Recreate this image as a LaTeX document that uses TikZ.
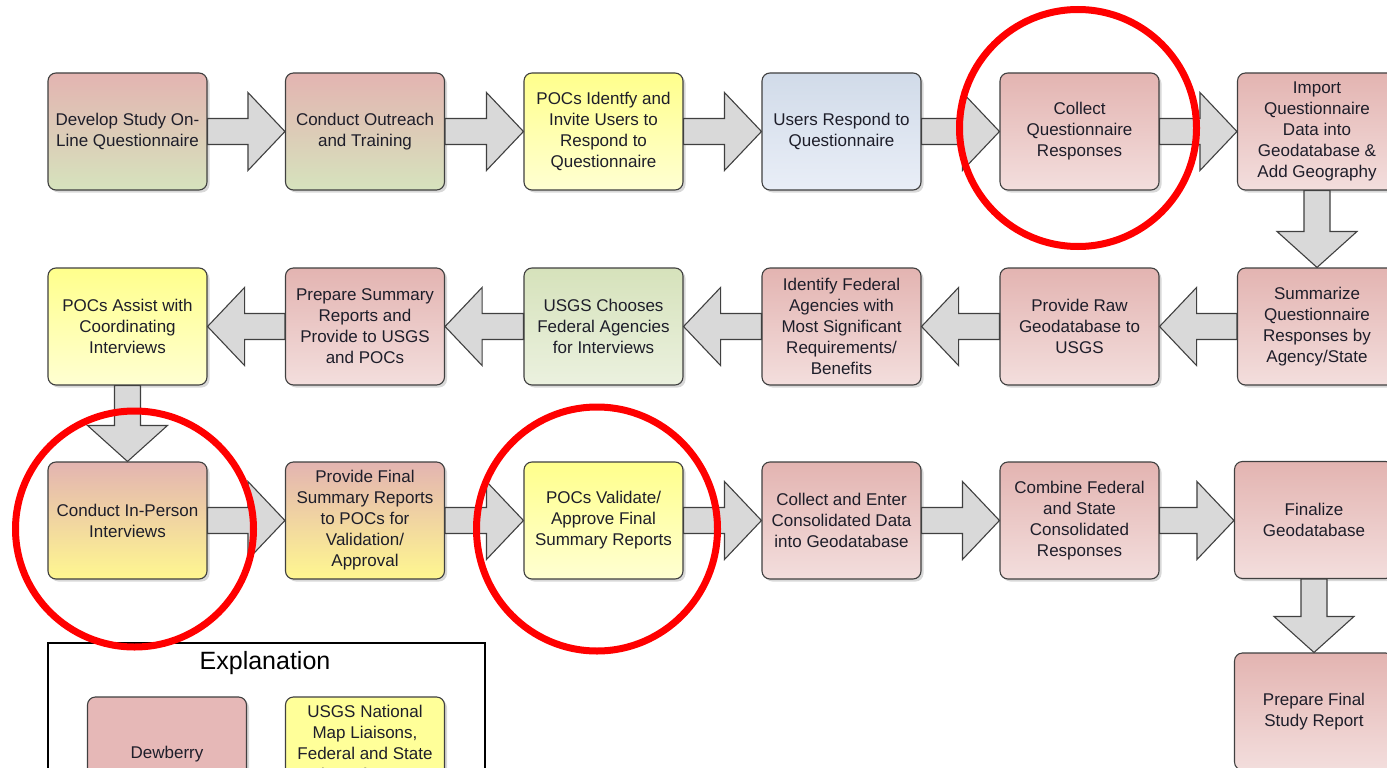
\documentclass[tikz,border=0pt]{standalone}
\usepackage{fontspec}
\setmainfont{Liberation Sans}
\usetikzlibrary{shadows,calc}

\definecolor{pinkT}{HTML}{E3B4B1}
\definecolor{pinkB}{HTML}{F3DEDD}
\definecolor{greenT}{HTML}{D6E2BB}
\definecolor{greenB}{HTML}{EBF1DF}
\definecolor{yelT}{HTML}{FFFF8C}
\definecolor{yelB}{HTML}{FFFFD2}
\definecolor{blueT}{HTML}{D1DBE9}
\definecolor{blueB}{HTML}{E9EEF7}
\definecolor{mixG}{HTML}{D6E3BD}
\definecolor{mixY}{HTML}{FFF790}
\definecolor{legPink}{HTML}{E6B8B7}
\definecolor{legYel}{HTML}{FFFF99}
\definecolor{boxline}{HTML}{404040}
\definecolor{arrowfill}{HTML}{D9D9D9}
\definecolor{txt}{HTML}{1E1E2A}
\definecolor{ringred}{HTML}{FF0000}

\tikzset{
  stepbox/.style={draw=boxline, line width=1.1pt, rounded corners=8pt,
    minimum width=159pt, minimum height=117pt, align=center, inner sep=0pt,
    font=\fontsize{17}{21}\selectfont, text=txt,
    drop shadow={opacity=0.3, shadow xshift=2.5pt, shadow yshift=-2.5pt}},
  dewbox/.style={stepbox, top color=pinkT, bottom color=pinkB},
  pgbox/.style={stepbox, top color=pinkT, bottom color=mixG},
  pybox/.style={stepbox, top color=pinkT, bottom color=mixY},
  yelbox/.style={stepbox, top color=yelT, bottom color=yelB},
  bluebox/.style={stepbox, top color=blueT, bottom color=blueB},
  grnbox/.style={stepbox, top color=greenT, bottom color=greenB},
  barrow/.style={draw=boxline, fill=arrowfill, line width=1.1pt, line join=miter},
  ringline/.style={draw=ringred, line width=7pt},
}

\newcommand{\arrR}[2]{\draw[barrow] let \p1=(#1.east), \p2=(#2.west) in
  (\x1,\y1+13pt) -- (\x2-37pt,\y1+13pt) -- (\x2-37pt,\y1+39pt) -- (\x2,\y1)
  -- (\x2-37pt,\y1-39pt) -- (\x2-37pt,\y1-13pt) -- (\x1,\y1-13pt) -- cycle;}
\newcommand{\arrL}[2]{\draw[barrow] let \p1=(#1.west), \p2=(#2.east) in
  (\x1,\y1+13pt) -- (\x2+37pt,\y1+13pt) -- (\x2+37pt,\y1+39pt) -- (\x2,\y1)
  -- (\x2+37pt,\y1-39pt) -- (\x2+37pt,\y1-13pt) -- (\x1,\y1-13pt) -- cycle;}
\newcommand{\arrD}[2]{\draw[barrow] let \p1=(#1.south), \p2=(#2.north) in
  (\x1-13pt,\y1) -- (\x1-13pt,\y2+36pt) -- (\x1-40pt,\y2+36pt) -- (\x1,\y2)
  -- (\x1+40pt,\y2+36pt) -- (\x1+13pt,\y2+36pt) -- (\x1+13pt,\y1) -- cycle;}

\begin{document}
\begin{tikzpicture}[x=1pt,y=-1pt]
\useasboundingbox (0,0) rectangle (1387,768);
\clip (0,0) rectangle (1387,768);
\fill[white] (0,0) rectangle (1387,768);

% row 1
\node[pgbox]   (b1) at (127.5,131.5) {Develop Study On-\\Line Questionnaire};
\node[pgbox]   (b2) at (365,131.5) {Conduct Outreach\\and Training};
\node[yelbox]  (b3) at (603.5,131.5) {POCs Identfy and\\Invite Users to\\Respond to\\Questionnaire};
\node[bluebox] (b4) at (841.5,131.5) {Users Respond to\\Questionnaire};
\node[dewbox]  (b5) at (1079.5,131.5) {Collect\\Questionnaire\\Responses};
\node[dewbox]  (b6) at (1317,131.5) {Import\\Questionnaire\\Data into\\Geodatabase \&\\Add Geography};

% row 2
\node[yelbox]  (c1) at (127.5,326.5) {POCs Assist with\\Coordinating\\Interviews};
\node[dewbox]  (c2) at (365,326.5) {Prepare Summary\\Reports and\\Provide to USGS\\and POCs};
\node[grnbox]  (c3) at (603.5,326.5) {USGS Chooses\\Federal Agencies\\for Interviews};
\node[dewbox]  (c4) at (841.5,326.5) {Identify Federal\\Agencies with\\Most Significant\\Requirements/\\Benefits};
\node[dewbox]  (c5) at (1079.5,326.5) {Provide Raw\\Geodatabase to\\USGS};
\node[dewbox]  (c6) at (1317,326.5) {Summarize\\Questionnaire\\Responses by\\Agency/State};

% row 3
\node[pybox]   (d1) at (127.5,520.5) {Conduct In-Person\\Interviews};
\node[pybox]   (d2) at (365,520.5) {Provide Final\\Summary Reports\\to POCs for\\Validation/\\Approval};
\node[yelbox]  (d3) at (603.5,520.5) {POCs Validate/\\Approve Final\\Summary Reports};
\node[dewbox]  (d4) at (841.5,520.5) {Collect and Enter\\Consolidated Data\\into Geodatabase};
\node[dewbox]  (d5) at (1079.5,520.5) {Combine Federal\\and State\\Consolidated\\Responses};
\node[dewbox]  (d6) at (1314,520) {Finalize\\Geodatabase};
\node[dewbox]  (e6) at (1314,711.5) {Prepare Final\\Study Report};

% arrows
\arrR{b1}{b2} \arrR{b2}{b3} \arrR{b3}{b4} \arrR{b4}{b5} \arrR{b5}{b6}
\arrD{b6}{c6}
\arrL{c6}{c5} \arrL{c5}{c4} \arrL{c4}{c3} \arrL{c3}{c2} \arrL{c2}{c1}
\arrD{c1}{d1}
\arrR{d1}{d2} \arrR{d2}{d3} \arrR{d3}{d4} \arrR{d4}{d5} \arrR{d5}{d6}
\arrD{d6}{e6}

% explanation
\draw[black, line width=2.6pt] (48,643) rectangle (485,800);
\node[font=\fontsize{25}{30}\selectfont, text=black] (expl) at (265,663) {Explanation};
\node[stepbox, fill=legPink] (legd) at (167,755.5) {};
\node[font=\fontsize{17}{21}\selectfont, text=txt] (legdt) at (167,754) {Dewberry};
\node[stepbox, fill=legYel] (legy) at (365,755.5) {};
\node[font=\fontsize{17}{21}\selectfont, text=txt, align=center, anchor=north, inner sep=0pt] (legyt) at (365,705) {USGS National\\Map Liaisons,\\Federal and State\\Points of Contact};

% red rings
\draw[ringline] (1078,128) ellipse [x radius=118.5, y radius=118.5];
\draw[ringline] (134.5,529) ellipse [x radius=119, y radius=118];
\draw[ringline] (597,529) ellipse [x radius=120.5, y radius=122];
\end{tikzpicture}
\end{document}
